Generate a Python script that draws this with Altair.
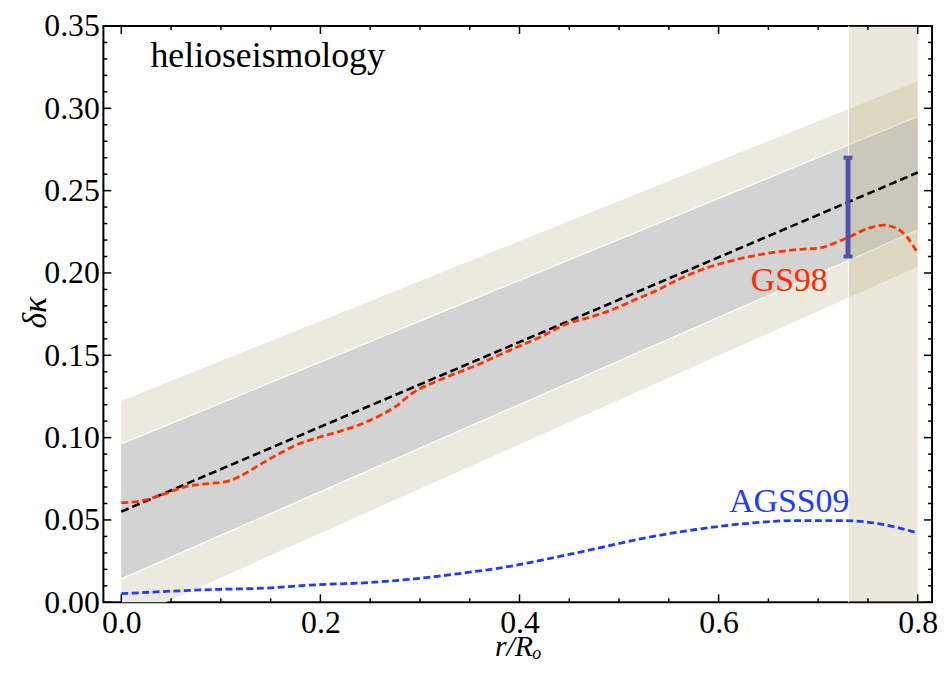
import altair as alt
import pandas as pd

# ---------------- data ----------------
gs98_r = [0.0, 0.021, 0.044, 0.068, 0.088, 0.108, 0.121, 0.138, 0.158, 0.178, 0.198,
          0.221, 0.244, 0.260, 0.277, 0.290, 0.324, 0.357, 0.390, 0.424, 0.447, 0.470,
          0.490, 0.517, 0.540, 0.556, 0.583, 0.617, 0.650, 0.683, 0.700, 0.716, 0.730,
          0.750, 0.766, 0.779, 0.789, 0.800]
gs98_k = [0.0605, 0.0617, 0.0660, 0.0707, 0.0721, 0.0737, 0.0771, 0.0831, 0.0901, 0.0961,
          0.1001, 0.1041, 0.1090, 0.1135, 0.1195, 0.1260, 0.1360, 0.1440, 0.1530, 0.1620,
          0.1690, 0.1730, 0.1770, 0.1840, 0.1900, 0.1950, 0.2020, 0.2080, 0.2120, 0.2144,
          0.2150, 0.2180, 0.2216, 0.2270, 0.2290, 0.2270, 0.2220, 0.2120]

agss_r = [0.0, 0.045, 0.095, 0.145, 0.195, 0.244, 0.294, 0.344, 0.394, 0.427, 0.477,
          0.527, 0.577, 0.627, 0.677, 0.725, 0.760, 0.800]
agss_k = [0.0052, 0.0066, 0.0078, 0.0086, 0.0106, 0.0118, 0.0142, 0.0178, 0.0222, 0.0262,
          0.0326, 0.0392, 0.0442, 0.0478, 0.0496, 0.0496, 0.0478, 0.0421]

fit_r = [0.0, 0.8]
fit_k = [0.0551, 0.261]

band_r = [0.0, 0.8]
inner_lo = [0.0142, 0.226]
inner_hi = [0.0961, 0.295]
outer_lo = [-0.012, 0.2038]
outer_hi = [0.1223, 0.3165]

zone_r0 = [0.7305]
zone_r1 = [0.8]

err_r = [0.73]
err_lo = [0.210]
err_hi = [0.270]

labels_text = ["helioseismology", "GS98", "AGSS09"]
labels_r = [0.147, 0.671, 0.671]
labels_k = [0.325, 0.189, 0.055]
labels_size = [36, 34, 34]
labels_color = ["black", "#FF2A00", "#1E3CFF"]

x_major = [0.0, 0.2, 0.4, 0.6, 0.8]
x_minor = [0.05, 0.1, 0.15, 0.25, 0.3, 0.35, 0.45, 0.5, 0.55, 0.65, 0.7, 0.75]
y_major = [0.0, 0.05, 0.1, 0.15, 0.2, 0.25, 0.3, 0.35]
y_minor = [round(i * 0.01, 2) for i in range(36) if i % 5 != 0]

# ---------------- layout ----------------
W, H = 834, 580
FONT = "Liberation Serif"

xs = alt.Scale(domain=[-0.018, 0.8144], nice=False, zero=False)
ys = alt.Scale(domain=[0.0, 0.35], nice=False, zero=False)

band_df = pd.DataFrame({"r": band_r, "ilo": inner_lo, "ihi": inner_hi,
                        "olo": outer_lo, "ohi": outer_hi})
gs_df = pd.DataFrame({"r": gs98_r, "k": gs98_k})
ag_df = pd.DataFrame({"r": agss_r, "k": agss_k})
fit_df = pd.DataFrame({"r": fit_r, "k": fit_k})
zone_df = pd.DataFrame({"r0": zone_r0, "r1": zone_r1})
err_df = pd.DataFrame({"r": err_r, "lo": err_lo, "hi": err_hi})
lab_df = pd.DataFrame({"t": labels_text, "r": labels_r, "k": labels_k,
                       "c": labels_color, "s": labels_size})

x_axis = alt.Axis(values=x_major, format=".1f", ticks=False, domain=False, grid=False,
                  labelFont=FONT, labelFontSize=32, labelPadding=5, labelColor="black",
                  labelFlush=False, labelOverlap=False,
                  title="r/Rₒ", titleFont=FONT, titleFontSize=30, titleFontStyle="italic",
                  titleFontWeight="normal", titleColor="black",
                  titleBaseline="alphabetic", titleY=54)
y_axis = alt.Axis(values=y_major, format=".2f", ticks=False, domain=False, grid=False,
                  labelFont=FONT, labelFontSize=32, labelPadding=4, labelColor="black",
                  labelFlush=False, labelOverlap=False,
                  title="δκ", titleFont=FONT, titleFontSize=34, titleFontStyle="italic",
                  titleFontWeight="normal", titleColor="black", titleAngle=270,
                  titleAlign="center", titleBaseline="middle", titleX=-68, titleY=288)

X = lambda f: alt.X(f, scale=xs)
Y = lambda f: alt.Y(f, scale=ys)

outer = alt.Chart(band_df).mark_area(color="#ECEADE", clip=True).encode(
    x=alt.X("r:Q", scale=xs, axis=x_axis, title="r/Rₒ"),
    y=alt.Y("olo:Q", scale=ys, axis=y_axis, title="δκ"),
    y2="ohi:Q",
)
inner = alt.Chart(band_df).mark_area(color="#D3D3D3", clip=True).encode(
    x=X("r:Q"), y=Y("ilo:Q"), y2="ihi:Q")
edge_lo = alt.Chart(band_df).mark_line(color="white", strokeWidth=1.2).encode(
    x=X("r:Q"), y=Y("ilo:Q"))
edge_hi = alt.Chart(band_df).mark_line(color="white", strokeWidth=1.2).encode(
    x=X("r:Q"), y=Y("ihi:Q"))

zone = alt.Chart(zone_df).mark_rect(color="#B4AA73", opacity=0.27).encode(
    x=X("r0:Q"), x2="r1:Q", y=alt.value(0), y2=alt.value(H))
zone_edge = alt.Chart(zone_df).mark_rule(color="white", strokeWidth=1.2, opacity=0.8).encode(
    x=X("r0:Q"), y=alt.value(0), y2=alt.value(H))

fit = alt.Chart(fit_df).mark_line(color="black", strokeWidth=2.6, strokeDash=[8, 4]).encode(
    x=X("r:Q"), y=Y("k:Q"))
gs = alt.Chart(gs_df).mark_line(color="#FF3300", strokeWidth=2.8, strokeDash=[7, 3.5],
                                interpolate="monotone").encode(x=X("r:Q"), y=Y("k:Q"))
ag = alt.Chart(ag_df).mark_line(color="#1E3CFF", strokeWidth=2.8, strokeDash=[7, 3.5],
                                interpolate="monotone").encode(x=X("r:Q"), y=Y("k:Q"))

err = alt.Chart(err_df).mark_rule(color="#4F54AA", strokeWidth=5).encode(
    x=X("r:Q"), y=Y("lo:Q"), y2="hi:Q")
cap_lo = alt.Chart(err_df).mark_tick(color="#4F54AA", orient="horizontal", size=9,
                                     thickness=4, opacity=1).encode(x=X("r:Q"), y=Y("lo:Q"))
cap_hi = alt.Chart(err_df).mark_tick(color="#4F54AA", orient="horizontal", size=9,
                                     thickness=4, opacity=1).encode(x=X("r:Q"), y=Y("hi:Q"))

texts = alt.Chart(lab_df).mark_text(font=FONT, align="center", baseline="alphabetic").encode(
    x=X("r:Q"), y=Y("k:Q"),
    text="t:N", color=alt.Color("c:N", scale=None), size=alt.Size("s:Q", scale=None))


def xticks(vals, length):
    d = pd.DataFrame({"v": vals})
    bot = alt.Chart(d).mark_rule(color="black", strokeWidth=1.5).encode(
        x=X("v:Q"), y=alt.value(H), y2=alt.value(H - length))
    top = alt.Chart(d).mark_rule(color="black", strokeWidth=1.5).encode(
        x=X("v:Q"), y=alt.value(0), y2=alt.value(length))
    return [bot, top]


def yticks(vals, length):
    d = pd.DataFrame({"v": vals})
    left = alt.Chart(d).mark_rule(color="black", strokeWidth=1.5).encode(
        y=Y("v:Q"), x=alt.value(0), x2=alt.value(length))
    right = alt.Chart(d).mark_rule(color="black", strokeWidth=1.5).encode(
        y=Y("v:Q"), x=alt.value(W), x2=alt.value(W - length))
    return [left, right]


tick_layers = xticks(x_major, 8) + xticks(x_minor, 4) + yticks(y_major, 8) + yticks(y_minor, 4)

chart = alt.layer(
    outer, inner, edge_lo, edge_hi, zone, zone_edge, fit, gs, ag, err,
    cap_lo, cap_hi, texts, *tick_layers
).properties(
    width=W, height=H,
    autosize=alt.AutoSizeParams(type="none"),
    padding={"left": 96, "top": 16, "right": 6, "bottom": 58},
    background="white",
).configure_view(
    stroke="black", strokeWidth=2
).configure_axis(
    labelFont=FONT, titleFont=FONT, labelColor="black", titleColor="black",
    titleFontWeight="normal"
)

chart.save("out.html", embed_options={"renderer": "svg", "actions": False})
